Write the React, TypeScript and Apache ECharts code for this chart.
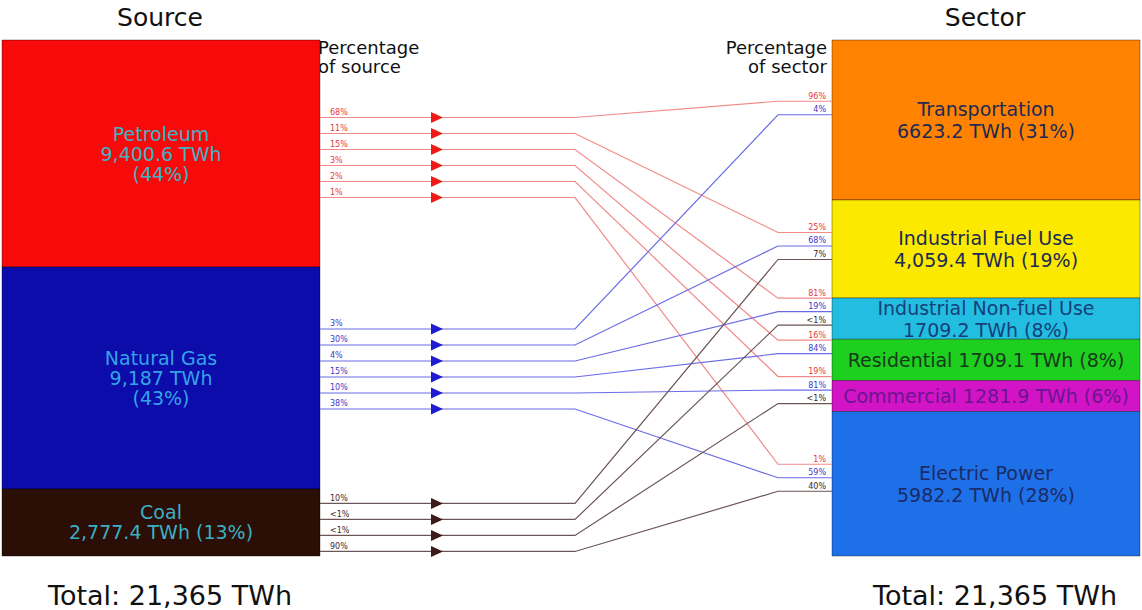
import { useEffect, useRef } from 'react';
import * as echarts from 'echarts';

// ---------- data ----------
const sourceNames = ['Petroleum', 'Natural Gas', 'Coal'];
const sourceValues = [9400.6, 9187, 2777.4];
const sourceLabels = [
  'Petroleum\n9,400.6 TWh\n(44%)',
  'Natural Gas\n9,187 TWh\n(43%)',
  'Coal\n2,777.4 TWh (13%)',
];

const sectorNames = [
  'Transportation',
  'Industrial Fuel Use',
  'Industrial Non-fuel Use',
  'Residential',
  'Commercial',
  'Electric Power',
];
const sectorValues = [6623.2, 4059.4, 1709.2, 1709.1, 1281.9, 5982.2];
const sectorLabels = [
  'Transportation\n6623.2 TWh (31%)',
  'Industrial Fuel Use\n4,059.4 TWh (19%)',
  'Industrial Non-fuel Use\n1709.2 TWh (8%)',
  'Residential 1709.1 TWh (8%)',
  'Commercial 1281.9 TWh (6%)',
  'Electric Power\n5982.2 TWh (28%)',
];

const flowSource = [0, 0, 0, 0, 0, 0, 1, 1, 1, 1, 1, 1, 2, 2, 2, 2];
const flowSector = [0, 1, 2, 3, 4, 5, 0, 1, 2, 3, 4, 5, 1, 2, 4, 5];
const flowSourcePct = ['68%', '11%', '15%', '3%', '2%', '1%', '3%', '30%', '4%', '15%', '10%', '38%', '10%', '<1%', '<1%', '90%'];
const flowSectorPct = ['96%', '25%', '81%', '16%', '19%', '1%', '4%', '68%', '19%', '84%', '81%', '59%', '7%', '<1%', '<1%', '40%'];

const totalLabel = 'Total: 21,365 TWh';
const titles = ['Source', 'Sector'];
const pctHeaders = ['Percentage\nof source', 'Percentage\nof sector'];

// ---------- styles / layout ----------
const FONT = '"DejaVu Sans", "Liberation Sans", Arial, sans-serif';
const SOURCE_COLORS = ['#f80a0a', '#0c0cab', '#2b0e06'];
const SOURCE_TEXT = ['#3fb3c4', '#34a3e6', '#3ab0c4'];
const SECTOR_COLORS = ['#ff8200', '#fbe900', '#22bde0', '#1fcf1f', '#d214c6', '#1e70e8'];
const SECTOR_TEXT = ['#1c2a55', '#1c2a55', '#16407a', '#163a1c', '#6a1490', '#1c2a66'];
const FLOW_LINE = ['#f28a8a', '#6b6be6', '#6b5555'];
const FLOW_ARROW = ['#f01a1a', '#1c1cd0', '#3a1c1c'];
const FLOW_TEXT = ['#e63a3a', '#3a3ac8', '#3a2a2a'];

const X_SRC0 = 2;
const X_SRC1 = 320;
const X_SEC0 = 832;
const X_SEC1 = 1140;
const X_BEND0 = 575;
const X_BEND1 = 778;
const X_ARROW = 437;
const SLOT_L = 16;
const SLOT_R = 13.5;
// pixel shift of each block's group of flow lines from the block's centre
const SHIFT_L = [4, -9, 5];
const SHIFT_R = [-12, -3, -7, -13, -6, -6];

function cumulative(vals: number[]) {
  const out: number[] = [];
  let s = 0;
  for (const v of vals) {
    out.push(s);
    s += v;
  }
  return out;
}

export default function App() {
  const ref = useRef<HTMLDivElement>(null);

  useEffect(() => {
    const chart = echarts.init(ref.current!, null, { renderer: 'svg' });
    const total = sourceValues.reduce((a, b) => a + b, 0);
    const srcStart = cumulative(sourceValues);
    const secStart = cumulative(sectorValues);

    const srcSlot: number[] = [];
    const srcCount: number[] = [];
    const secSlot: number[] = [];
    const secCount: number[] = [];
    flowSource.forEach((s, i) => {
      srcSlot.push(flowSource.slice(0, i).filter((x) => x === s).length);
      srcCount.push(flowSource.filter((x) => x === s).length);
      const t = flowSector[i];
      secSlot.push(flowSector.slice(0, i).filter((x) => x === t).length);
      secCount.push(flowSector.filter((x) => x === t).length);
    });

    const blockItem = (x0: number, x1: number, fills: string[], texts: string[], textColors: string[], lh: number) =>
      (params: any, api: any) => {
        const i = api.value(0);
        const p0 = api.coord([x0, api.value(1)]);
        const p1 = api.coord([x1, api.value(2)]);
        return {
          type: 'group',
          children: [
            {
              type: 'rect',
              shape: { x: p0[0], y: p0[1], width: p1[0] - p0[0], height: p1[1] - p0[1] },
              style: { fill: fills[i], stroke: 'rgba(0,0,0,0.35)', lineWidth: 1 },
            },
            {
              type: 'text',
              x: (p0[0] + p1[0]) / 2,
              y: (p0[1] + p1[1]) / 2,
              style: {
                text: texts[i],
                fill: textColors[i],
                fontSize: 19,
                fontFamily: FONT,
                lineHeight: lh,
                align: 'center',
                verticalAlign: 'middle',
              },
            },
          ],
        };
      };

    const option: any = {
      animation: false,
      backgroundColor: '#ffffff',
      grid: { left: 0, right: 0, top: 40, bottom: 54 },
      xAxis: { type: 'value', min: 0, max: 1142, show: false },
      yAxis: { type: 'value', min: 0, max: total, inverse: true, show: false },
      graphic: [
        {
          type: 'text',
          x: 160, y: 17,
          style: { text: titles[0], fontSize: 25, fontFamily: FONT, fill: '#111', align: 'center', verticalAlign: 'middle' },
        },
        {
          type: 'text',
          x: 985, y: 17,
          style: { text: titles[1], fontSize: 25, fontFamily: FONT, fill: '#111', align: 'center', verticalAlign: 'middle' },
        },
        {
          type: 'text',
          x: 318, y: 38,
          style: { text: pctHeaders[0], fontSize: 18, lineHeight: 19, fontFamily: FONT, fill: '#111', align: 'left', verticalAlign: 'top' },
        },
        {
          type: 'text',
          x: 827, y: 38,
          style: { text: pctHeaders[1], fontSize: 18, lineHeight: 19, fontFamily: FONT, fill: '#111', align: 'right', verticalAlign: 'top' },
        },
        {
          type: 'text',
          x: 48, y: 595,
          style: { text: totalLabel, fontSize: 27, fontFamily: FONT, fill: '#111', align: 'left', verticalAlign: 'middle' },
        },
        {
          type: 'text',
          x: 873, y: 595,
          style: { text: totalLabel, fontSize: 27, fontFamily: FONT, fill: '#111', align: 'left', verticalAlign: 'middle' },
        },
      ],
      series: [
        {
          type: 'custom',
          name: 'Sources',
          clip: false,
          data: sourceNames.map((n, i) => ({ name: n, value: [i, srcStart[i], srcStart[i] + sourceValues[i]] })),
          renderItem: blockItem(X_SRC0, X_SRC1, SOURCE_COLORS, sourceLabels, SOURCE_TEXT, 20),
        },
        {
          type: 'custom',
          name: 'Sectors',
          clip: false,
          data: sectorNames.map((n, i) => ({ name: n, value: [i, secStart[i], secStart[i] + sectorValues[i]] })),
          renderItem: blockItem(X_SEC0, X_SEC1, SECTOR_COLORS, sectorLabels, SECTOR_TEXT, 22),
        },
        {
          type: 'custom',
          name: 'Flows',
          clip: false,
          data: flowSource.map((s, i) => {
            const t = flowSector[i];
            return [i, srcStart[s], srcStart[s] + sourceValues[s], secStart[t], secStart[t] + sectorValues[t]];
          }),
          renderItem: (params: any, api: any) => {
            const i = api.value(0);
            const s = flowSource[i];
            const t = flowSector[i];
            const sTop = api.coord([0, api.value(1)])[1];
            const sBot = api.coord([0, api.value(2)])[1];
            const tTop = api.coord([0, api.value(3)])[1];
            const tBot = api.coord([0, api.value(4)])[1];
            const X = (v: number) => api.coord([v, 0])[0];
            const yl = (sTop + sBot) / 2 + SHIFT_L[s] + (srcSlot[i] - (srcCount[i] - 1) / 2) * SLOT_L;
            const yr = (tTop + tBot) / 2 + SHIFT_R[t] + (secSlot[i] - (secCount[i] - 1) / 2) * SLOT_R;
            const xa = X(X_ARROW);
            return {
              type: 'group',
              children: [
                {
                  type: 'polyline',
                  shape: { points: [[X(X_SRC1), yl], [X(X_BEND0), yl], [X(X_BEND1), yr], [X(X_SEC0), yr]] },
                  style: { stroke: FLOW_LINE[s], lineWidth: 1.2, fill: 'none' },
                },
                {
                  type: 'polygon',
                  shape: { points: [[xa - 6, yl - 5.5], [xa + 6, yl], [xa - 6, yl + 5.5]] },
                  style: { fill: FLOW_ARROW[s] },
                },
                {
                  type: 'text',
                  x: X(330), y: yl - 1,
                  style: { text: flowSourcePct[i], fill: FLOW_TEXT[s], fontSize: 8, fontFamily: FONT, align: 'left', verticalAlign: 'bottom' },
                },
                {
                  type: 'text',
                  x: X(826), y: yr - 1,
                  style: { text: flowSectorPct[i], fill: FLOW_TEXT[s], fontSize: 8, fontFamily: FONT, align: 'right', verticalAlign: 'bottom' },
                },
              ],
            };
          },
        },
      ],
    };

    chart.setOption(option);
    return () => chart.dispose();
  }, []);

  return <div ref={ref} style={{ position: 'absolute', left: 0, top: 0, width: 1142, height: 610 }} />;
}
